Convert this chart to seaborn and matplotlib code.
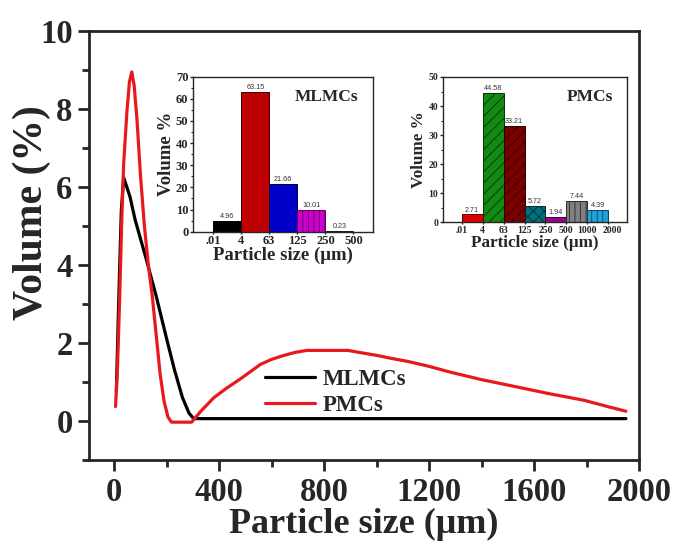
import numpy as np
import pandas as pd
import matplotlib
matplotlib.use("Agg")
import matplotlib.pyplot as plt
from matplotlib.ticker import MultipleLocator, FixedLocator
from matplotlib.transforms import ScaledTranslation
import seaborn as sns

# ---- particle size distribution curves (size in um, volume %) ----
mlmc_size = [8, 18, 27, 36, 48, 60, 80, 120, 160, 200, 230, 260, 285, 303,
             400, 600, 800, 1000, 1200, 1400, 1600, 1800, 1950]
mlmc_vol = [0.75, 3.3, 5.4, 6.24, 6.0, 5.75, 5.15, 4.2, 3.2, 2.1, 1.3, 0.6, 0.2, 0.06,
            0.06, 0.06, 0.06, 0.06, 0.06, 0.06, 0.06, 0.06, 0.06]

pmc_size = [5, 12, 20, 28, 36, 48, 58, 67, 76, 87, 100, 115, 130, 145, 160, 175,
            190, 205, 218, 295, 330, 380, 430, 481, 520, 557, 600, 646, 690, 735,
            890, 950, 1002, 1060, 1117, 1200, 1282, 1400, 1537, 1650, 1791, 1880, 1950]
pmc_vol = [0.37, 1.3, 3.0, 5.0, 6.6, 7.9, 8.7, 8.95, 8.6, 7.7, 6.3, 5.0, 4.0, 3.2, 2.2, 1.2,
           0.5, 0.1, -0.03, -0.03, 0.25, 0.6, 0.85, 1.08, 1.27, 1.45, 1.58, 1.68, 1.76, 1.81,
           1.81, 1.74, 1.68, 1.6, 1.53, 1.4, 1.25, 1.06, 0.87, 0.71, 0.53, 0.37, 0.25]

# ---- binned distributions for the two insets ----
mlmc_edges = [".01", "4", "63", "125", "250", "500"]
mlmc_bins = ["0.01-4", "4-63", "63-125", "125-250", "250-500"]
mlmc_pct = [4.96, 63.15, 21.66, 10.01, 0.23]
mlmc_colors = ["#000000", "#bf0000", "#0000c8", "#cc00cc", "#008000"]
mlmc_edgecol = ["#000000", "#400000", "#000040", "#5a005a", "#003000"]
mlmc_hatch = ["", "", "", "|||", ""]

pmc_edges = [".01", "4", "63", "125", "250", "500", "1000", "2000"]
pmc_bins = ["0.01-4", "4-63", "63-125", "125-250", "250-500", "500-1000", "1000-2000"]
pmc_pct = [2.71, 44.58, 33.21, 5.72, 1.94, 7.44, 4.39]
pmc_colors = ["#e00000", "#138a13", "#7a0000", "#00707f", "#a0008c", "#808080", "#22a2d8"]
pmc_edgecol = ["#500000", "#003500", "#2a0000", "#002a30", "#3a0030", "#2a2a2a", "#0a4660"]
pmc_hatch = ["", "///", "///", "xxx", "", "|||", "|||"]

sns.set_style("ticks")
serif = ["Liberation Serif", "DejaVu Serif"]
plt.rcParams["font.family"] = serif
plt.rcParams["font.weight"] = "bold"
plt.rcParams["hatch.linewidth"] = 0.6

fig = plt.figure(figsize=(6.75, 5.43), dpi=100)

# ---- main axes ----
ax = fig.add_axes([0.1323, 0.1529, 0.8144, 0.79])
curves = pd.concat([
    pd.DataFrame({"size": mlmc_size, "vol": mlmc_vol, "sample": "MLMCs"}),
    pd.DataFrame({"size": pmc_size, "vol": pmc_vol, "sample": "PMCs"}),
])
sns.lineplot(data=curves, x="size", y="vol", hue="sample",
             palette={"MLMCs": "black", "PMCs": "#e8191c"},
             estimator=None, sort=False, lw=2.3, ax=ax)

ax.set_xlim(-95, 2000)
ax.set_ylim(-1, 10)
ax.xaxis.set_major_locator(MultipleLocator(400))
ax.xaxis.set_minor_locator(MultipleLocator(200))
ax.yaxis.set_major_locator(FixedLocator([0, 2, 4, 6, 8, 10]))
ax.yaxis.set_minor_locator(MultipleLocator(1))
for s in ax.spines.values():
    s.set_linewidth(2.0)
    s.set_visible(True)
ax.tick_params(which="major", direction="out", length=8, width=2.0,
               labelsize=23.5, pad=4)
ax.tick_params(which="minor", direction="out", length=5, width=2.0)
for lbl in ax.get_xticklabels() + ax.get_yticklabels():
    lbl.set_fontweight("bold")
ax.set_xlabel("Particle size (μm)", fontsize=26, fontweight="bold", labelpad=0)
ax.set_ylabel("Volume (%)", fontsize=30, fontweight="bold")
ax.yaxis.set_label_coords(-0.069, 0.576)

leg = ax.legend(loc="upper left", bbox_to_anchor=(0.392, 0.321),
                bbox_transform=fig.transFigure, frameon=False,
                handlelength=2.2, handletextpad=0.35, labelspacing=0.22,
                borderpad=0, borderaxespad=0,
                prop={"family": serif, "weight": "bold", "size": 16.4})
for line in leg.get_lines():
    line.set_linewidth(2.3)


def inset(rect, bins, pct, colors, edgecols, hatches, edges, ymax, title, tick_fs,
          lab_fs, title_pos, xpad):
    iax = fig.add_axes(rect)
    sns.barplot(x=bins, y=pct, hue=bins, palette=colors, legend=False,
                width=1.0, linewidth=0.7, saturation=1, ax=iax)
    for patch, h, ec in zip(iax.patches, hatches, edgecols):
        patch.set_hatch(h)
        patch.set_edgecolor(ec)
    for patch, v in zip(iax.patches, pct):
        iax.text(patch.get_x() + patch.get_width() / 2, v + ymax * 0.006,
                 f"{v:.2f}", ha="center", va="bottom", fontsize=5.2,
                 family=["Liberation Sans", "DejaVu Sans"], fontweight="normal",
                 color="#333333")
    n = len(bins)
    iax.set_xticks(np.arange(n + 1) - 0.5)
    iax.set_xticklabels(edges)
    iax.set_xlim(-0.5 - xpad, n - 0.5 + xpad)
    iax.set_ylim(0, ymax)
    iax.yaxis.set_major_locator(MultipleLocator(10))
    iax.yaxis.set_minor_locator(MultipleLocator(5))
    for s in iax.spines.values():
        s.set_linewidth(1.0)
        s.set_visible(True)
    iax.tick_params(which="major", direction="out", length=2.5, width=1.0,
                    labelsize=tick_fs, pad=1)
    iax.tick_params(which="minor", direction="out", length=1.5, width=0.8)
    iax.tick_params(axis="x", length=1.5)
    for lbl in iax.get_xticklabels() + iax.get_yticklabels():
        lbl.set_fontweight("bold")
    iax.set_xlabel("Particle size (μm)", fontsize=lab_fs, fontweight="bold", labelpad=0)
    iax.set_ylabel("Volume %", fontsize=lab_fs, fontweight="bold", labelpad=1)
    iax.text(title_pos[0], title_pos[1], title, transform=iax.transAxes,
             ha="center", va="center", fontsize=12.5, fontweight="bold")
    return iax


inset([0.2864, 0.5733, 0.2667, 0.2858], mlmc_bins, mlmc_pct, mlmc_colors,
      mlmc_edgecol, mlmc_hatch, mlmc_edges, 70, "MLMCs", 9, 13.5, (0.74, 0.87), 0.71)
pax = inset([0.6567, 0.5906, 0.2717, 0.2676], pmc_bins, pmc_pct, pmc_colors,
            pmc_edgecol, pmc_hatch, pmc_edges, 50, "PMCs", 7, 12.3, (0.80, 0.86), 0.88)
# nudge the last edge label so it does not run into "1000"
last = pax.get_xticklabels()[-1]
last.set_transform(last.get_transform() + ScaledTranslation(0.045, 0, fig.dpi_scale_trans))

fig.savefig("out.png", dpi=100)
